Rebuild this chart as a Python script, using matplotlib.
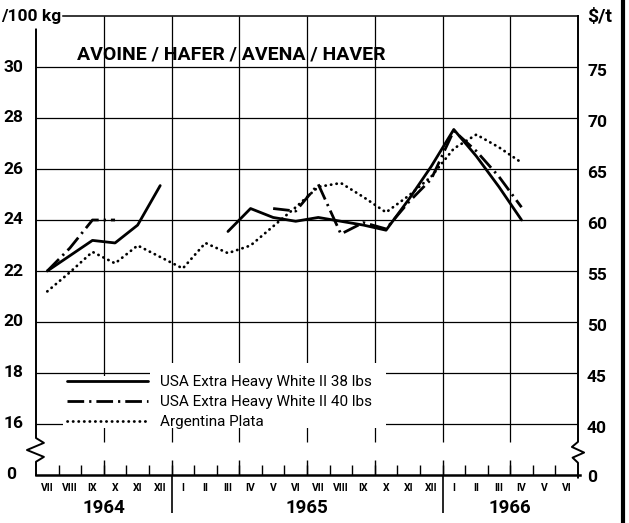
import numpy as np
import matplotlib
matplotlib.use('Agg')
import matplotlib.pyplot as plt
from matplotlib.lines import Line2D
from matplotlib.patches import Rectangle

plt.rcParams['font.family'] = ['Roboto', 'DejaVu Sans']

# monthly oat prices, VII 1964 .. VI 1966 (DM/100 kg); nan = no quotation
months = ['VII', 'VIII', 'IX', 'X', 'XI', 'XII',
          'I', 'II', 'III', 'IV', 'V', 'VI', 'VII', 'VIII', 'IX', 'X', 'XI', 'XII',
          'I', 'II', 'III', 'IV', 'V', 'VI']
years = ['1964', '1965', '1966']
year_start = [0, 6, 18]
year_end = [6, 18, 24]

nan = np.nan
usa38 = [22.0, 22.6, 23.2, 23.1, 23.8, 25.35, nan, nan, 23.55, 24.45, 24.1, 23.95,
         24.1, 23.95, 23.8, 23.6, 24.8, 26.1, 27.55, 26.5, 25.3, 24.0, nan, nan]
usa40 = [22.0, 22.9, 24.0, 24.0, nan, nan, nan, nan, nan, nan, 24.45, 24.35,
         25.4, 23.45, 23.9, 23.65, 24.7, 25.6, 27.5, 26.7, 25.7, 24.5, nan, nan]
argentina = [21.2, 21.95, 22.75, 22.3, 23.0, 22.55, 22.1, 23.1, 22.7, 23.0, 23.75, 24.5,
             25.3, 25.45, 24.9, 24.3, 24.95, 25.7, 26.8, 27.35, 26.85, 26.25, nan, nan]

series_labels = ['USA Extra Heavy White II 38 lbs',
                 'USA Extra Heavy White II 40 lbs',
                 'Argentina Plata']

left_vals = [16, 18, 20, 22, 24, 26, 28, 30]
right_labels = ['40', '45', '50', '55', '60', '65', '70', '75']
zero_pos = 14  # broken axis: the "0" sits just below 16

fig = plt.figure(figsize=(6.29, 5.23), dpi=100)
ax = fig.add_axes([36 / 629, 48 / 523, 542 / 629, 459 / 523])
ax.set_xlim(0, 24)
ax.set_ylim(zero_pos, 32)
ax.set_axis_off()

x = np.arange(len(months)) + 0.5

# grid
ax.hlines(left_vals, 0, 24, color='k', lw=0.9, zorder=1)
ax.vlines(np.arange(3, 24, 3), 15.3, 32, color='k', lw=0.9, zorder=1)

# blank area behind the legend
ax.add_patch(Rectangle((1.2, 15.84), 14.3, 2.06, fc='white', ec='none', zorder=2))
ax.add_patch(Rectangle((5.05, 17.85), 10.45, 0.55, fc='white', ec='none', zorder=2))

# frame with broken y axes
ax.plot([0, 0, 0.35, -0.4, 0.35, 0, 0],
        [31.47, 15.45, 15.26, 14.98, 14.71, 14.52, zero_pos],
        color='k', lw=1.4, clip_on=False, zorder=3)
ax.plot([24, 24, 23.73, 24.27, 23.76, 24, 24],
        [32, 15.3, 15.1, 14.88, 14.68, 14.48, zero_pos - 0.1],
        color='k', lw=1.4, clip_on=False, zorder=3)
ax.plot([0, 24.1], [zero_pos, zero_pos], color='k', lw=1.8, clip_on=False, zorder=3)
ax.plot([1.2, 24], [32, 32], color='k', lw=1.1, clip_on=False, zorder=3)

# month ticks on the time axis
ax.vlines(np.arange(1, 24), zero_pos, zero_pos + 0.39, color='k', lw=1.0, zorder=3)
ax.vlines(np.arange(3, 24, 3), zero_pos, zero_pos + 0.59, color='k', lw=1.0, zorder=3)
ax.vlines([6, 18], zero_pos - 1.5, zero_pos, color='k', lw=1.2, clip_on=False, zorder=3)

for xi, m in zip(x, months):
    ax.text(xi, zero_pos - 0.51, m, ha='center', va='center', fontsize=7.5,
            fontweight='bold')
for y0, y1, yr in zip(year_start, year_end, years):
    ax.text((y0 + y1) / 2, zero_pos - 1.29, yr, ha='center', va='center',
            fontsize=13.5, fontweight='bold')

# value labels, DM/100 kg on the left and $/t on the right
for v in left_vals:
    ax.annotate(str(v), xy=(0, v), xytext=(-9, 0), textcoords='offset points',
                ha='right', va='center', fontsize=12.5, fontweight='bold')
ax.annotate('0', xy=(0, zero_pos), xytext=(-14, 0), textcoords='offset points',
            ha='right', va='center', fontsize=12.5, fontweight='bold')
for v, lab in zip(left_vals, right_labels):
    ax.annotate(lab, xy=(24, v), xytext=(6.5, -3.5), textcoords='offset points',
                ha='left', va='center', fontsize=12.5, fontweight='bold')
ax.annotate('0', xy=(24, zero_pos), xytext=(6.5, -1.5), textcoords='offset points',
            ha='left', va='center', fontsize=12.5, fontweight='bold')

fig.text(1 / 629, 1 - 16 / 523, '/100 kg', ha='left', va='center', fontsize=12.5,
         fontweight='bold')
fig.text(587 / 629, 1 - 17 / 523, '\\$/t', ha='left', va='center', fontsize=14,
         fontweight='bold')

ax.text(1.8, 30.5, 'AVOINE / HAFER / AVENA / HAVER', ha='left', va='center',
        fontsize=14, fontweight='bold')

# price series
l1, = ax.plot(x, usa38, color='k', lw=2.0, solid_capstyle='round',
              solid_joinstyle='round', zorder=4, label=series_labels[0])
l2, = ax.plot(x, usa40, color='k', lw=2.0, ls=(0, (6, 1.8, 0.8, 1.8)),
              zorder=4, label=series_labels[1])
l3, = ax.plot(x, argentina, color='k', lw=2.0, ls=(0, (0.1, 1.9)),
              dash_capstyle='round', zorder=4, label=series_labels[2])

ax.legend(handles=[l1, l2, l3], loc='upper left',
          bbox_to_anchor=(67 / 629, 1 - 375 / 523), bbox_transform=fig.transFigure,
          frameon=False, fontsize=11, handlelength=5.3, handletextpad=0.8,
          labelspacing=0.4, borderpad=0, borderaxespad=0)

# page edge
fig.add_artist(Line2D([623 / 629, 623 / 629], [0, 1], color='k', lw=3))

fig.savefig('out.png', dpi=100)
